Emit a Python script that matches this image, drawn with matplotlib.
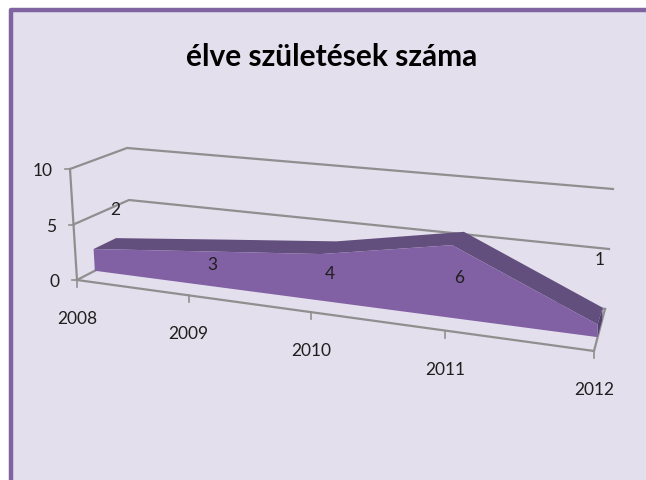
import matplotlib
matplotlib.use("Agg")
import matplotlib.pyplot as plt
import numpy as np

title = 'élve születések száma'
years = ['2008', '2009', '2010', '2011', '2012']
births = [2, 3, 4, 6, 1]
y_ticks = [0, 5, 10]

BG = '#E4DFEC'
BORDER = '#8064A2'
FRONT = '#8161A3'
TOP = '#624F7E'
CAP = '#544070'
GRID = '#8F8F8F'
TEXT = '#1F1F1F'
FONT = 'Lato'

W = 646; H = 481
Y_MAX = 10.0

# corners of the 3D box in pixels: (side, value level, depth)
FL0 = np.array([77, 281.]);  FL1 = np.array([70, 170.])
FR0 = np.array([594, 352.]); FR1 = np.array([590, 222.])
BL0 = np.array([131, 253.]); BL1 = np.array([127, 149.])
BR0 = np.array([605, 310.]); BR1 = np.array([613, 190.])

AREA_FRONT = 0.33  # depth of area front/back face
AREA_BACK = 0.74
PERSP = 1.21  # foreshortening along the category axis


def project(i, value, depth):
    # category index + value + depth -> pixel position
    t = i / (len(years) - 1)
    u = t / (t + PERSP * (1 - t))
    v = value / Y_MAX
    left0 = FL0 + depth * (BL0 - FL0)
    left1 = FL1 + depth * (BL1 - FL1)
    right0 = FR0 + depth * (BR0 - FR0)
    right1 = FR1 + depth * (BR1 - FR1)
    bottom = left0 + u * (right0 - left0)
    top = left1 + u * (right1 - left1)
    return bottom + v * (top - bottom)


last = len(years) - 1
fig = plt.figure(figsize=(W / 100, H / 100), dpi=100, facecolor='white')
ax = fig.add_axes([0, 0, 1, 1])
ax.set_xlim(0, W)
ax.set_ylim(H, 0)
ax.axis('off')

# slide background and border
ax.fill([10.5, W + 5, W + 5, 10.5], [10.5, 10.5, H + 5, H + 5], facecolor=BG,
        edgecolor=BORDER, linewidth=3.2, joinstyle='round', zorder=1)

# walls: gridlines on the back wall and side wall, floor outline
for tick in y_ticks:
    pts = np.array([project(0, tick, 0), project(0, tick, 1), project(last, tick, 1)])
    ax.plot(pts[:, 0], pts[:, 1], color=GRID, lw=1.6, zorder=2, solid_joinstyle='miter')
    p = project(0, tick, 0)
    ax.plot([p[0] - 5, p[0]], [p[1], p[1]], color=GRID, lw=1.2, zorder=2)
    ax.text(p[0] - 17, p[1] + 1.5, str(tick), ha='right', va='center', fontsize=12.5,
            family=FONT, color=TEXT, zorder=5)

# left axis, front floor edge, right floor edge
pts = np.array([project(0, 0, 0), project(0, Y_MAX, 0)])
ax.plot(pts[:, 0], pts[:, 1], color=GRID, lw=1.6, zorder=2)
pts = np.array([project(0, 0, 0), project(last, 0, 0), project(last, 0, 1)])
ax.plot(pts[:, 0], pts[:, 1], color=GRID, lw=1.6, zorder=2)

for i, year in enumerate(years):
    p = project(i, 0, 0)
    ax.plot([p[0], p[0]], [p[1], p[1] + 7], color=GRID, lw=1.2, zorder=2)
    ax.text(p[0], p[1] + 38, year, ha='center', va='center', fontsize=12.5,
            family=FONT, color=TEXT, zorder=5)

# the area: top band, end cap, front face
idx = range(len(years))
front_top = [project(i, births[i], AREA_FRONT) for i in idx]
back_top = [project(i, births[i], AREA_BACK) for i in idx]
front_bottom = [project(i, 0, AREA_FRONT) for i in idx]

poly = np.array(front_top + back_top[::-1])
ax.fill(poly[:, 0], poly[:, 1], color=TOP, lw=0, zorder=3)

poly = np.array([front_top[-1], back_top[-1], project(last, 0, AREA_BACK), front_bottom[-1]])
ax.fill(poly[:, 0], poly[:, 1], color=CAP, lw=0, zorder=3)

poly = np.array(front_top + front_bottom[::-1])
ax.fill(poly[:, 0], poly[:, 1], color=FRONT, lw=0, zorder=4)

# data labels sit where the original chart put them
label_pos = [(115, 210), (212, 265), (330, 274), (459, 278), (600, 260)]
for val, (lx, ly) in zip(births, label_pos):
    ax.text(lx, ly, str(val), ha='center', va='center', fontsize=12.5,
            family=FONT, color=TEXT, zorder=6)

ax.text(332, 57, title, ha='center', va='center', fontsize=21.5, fontweight='bold',
        family=FONT, color='black', zorder=6)

plt.savefig('out.png', dpi=100, facecolor='white')
